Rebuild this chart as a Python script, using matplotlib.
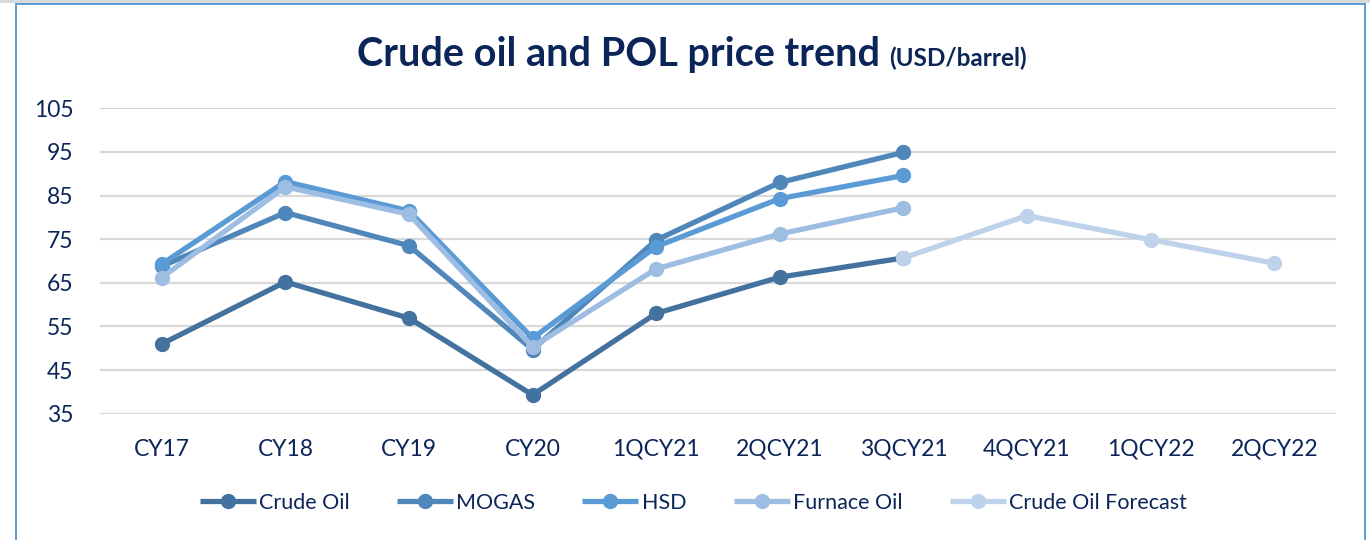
import numpy as np
import matplotlib
matplotlib.use("Agg")
import matplotlib.pyplot as plt
from matplotlib.offsetbox import TextArea, HPacker, AnchoredOffsetbox
from matplotlib.patches import Rectangle

categories = ["CY17", "CY18", "CY19", "CY20", "1QCY21", "2QCY21", "3QCY21",
              "4QCY21", "1QCY22", "2QCY22"]
nan = np.nan
crude_oil = [51.0, 65.2, 56.9, 39.3, 58.0, 66.3, 70.7, nan, nan, nan]
mogas = [68.8, 81.1, 73.5, 49.7, 74.8, 88.0, 94.9, nan, nan, nan]
hsd = [69.3, 88.2, 81.5, 52.3, 73.3, 84.3, 89.6, nan, nan, nan]
furnace_oil = [66.2, 87.0, 80.7, 50.3, 68.2, 76.2, 82.2, nan, nan, nan]
crude_forecast = [nan, nan, nan, nan, nan, nan, 70.7, 80.4, 74.9, 69.5]

series = [
    ("Crude Oil", crude_oil, "#44729f"),
    ("MOGAS", mogas, "#4f87bb"),
    ("HSD", hsd, "#5b9bd5"),
    ("Furnace Oil", furnace_oil, "#9dbde2"),
    ("Crude Oil Forecast", crude_forecast, "#bed2eb"),
]

navy = "#0c2559"
plt.rcParams['font.family'] = ['Lato', 'DejaVu Sans']

fig = plt.figure(figsize=(13.7, 5.4), dpi=100)
ax = fig.add_axes([100/1370, 1-413.7/540, (1336-100)/1370, (413.7-108.3)/540])

x = np.arange(len(categories))
for name, vals, col in series:
    ax.plot(x, vals, color=col, lw=3.8, marker='o', markersize=10,
            label=name, solid_capstyle='butt', zorder=3)

ax.set_xlim(-0.5, len(categories) - 0.5)
ax.set_ylim(35, 105)
ax.set_yticks(np.arange(35, 106, 10))
ax.set_xticks(x)
ax.set_xticklabels(categories)
ax.grid(axis='y', color='#d9d9d9', lw=1.6, zorder=0)
ax.set_axisbelow(True)
for s in ax.spines.values():
    s.set_visible(False)
ax.tick_params(axis='both', length=0, labelsize=16.5, labelcolor=navy)
ax.tick_params(axis='x', pad=18)
ax.tick_params(axis='y', pad=19)

leg = fig.legend(loc='center', bbox_to_anchor=(0.506, 0.069), ncol=5,
                 frameon=False, fontsize=15.5, handlelength=2.6,
                 columnspacing=2.2, handletextpad=0.15)
for t in leg.get_texts():
    t.set_color(navy)

# Title
t1 = TextArea("Crude oil and POL price trend ",
              textprops=dict(fontsize=28.5, fontweight='bold', color=navy))
t2 = TextArea("(USD/barrel)",
              textprops=dict(fontsize=17.5, fontweight='bold', color=navy))
box = HPacker(children=[t1, t2], align="baseline", pad=0, sep=0)
anch = AnchoredOffsetbox(loc='center', child=box, pad=0, frameon=False,
                         bbox_to_anchor=(0.505, 0.899),
                         bbox_transform=fig.transFigure, borderpad=0)
fig.add_artist(anch)

# Frame
fig.add_artist(Rectangle((16/1370, -0.05), (1365-16)/1370, 1.05 - 3.5/540,
                         transform=fig.transFigure, fill=False,
                         edgecolor='#5b9bd5', lw=1.4))
fig.add_artist(Rectangle((0, 1-3/540), 1, 3/540, transform=fig.transFigure,
                         facecolor='#d9d9d9', edgecolor='none'))

fig.savefig("out.png", dpi=100)
